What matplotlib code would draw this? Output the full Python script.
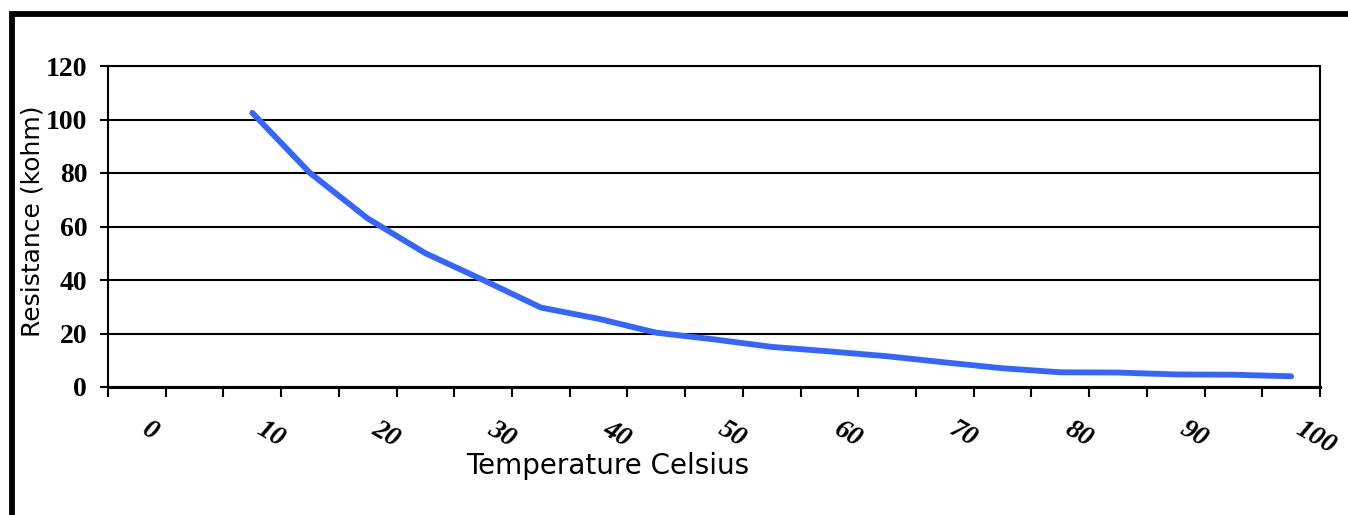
import matplotlib
matplotlib.use("Agg")
import matplotlib.pyplot as plt
import matplotlib.transforms as mtransforms
from matplotlib.patches import Rectangle
import numpy as np

# Temperature categories (deg C) and measured thermistor resistance (kohm)
temperatures = [0, 5, 10, 15, 20, 25, 30, 35, 40, 45, 50,
                55, 60, 65, 70, 75, 80, 85, 90, 95, 100]
resistance = [np.nan, np.nan, 102.5, 80.0, 63.0, 50.0, 40.0, 29.7, 25.5, 20.3, 17.8,
              15.0, 13.3, 11.5, 9.2, 7.0, 5.5, 5.4, 4.7, 4.6, 4.0]
x_tick_labels = ["0", "10", "20", "30", "40", "50", "60", "70", "80", "90", "100"]
y_ticks = [0, 20, 40, 60, 80, 100, 120]

W, H, DPI = 1348, 515, 100
fig = plt.figure(figsize=(W / DPI, H / DPI), dpi=DPI)
fig.patch.set_facecolor("white")

# thick outer frame, clipped by the right and bottom edges of the canvas
frame = Rectangle((12.2 / W, -0.1), 1.2, (1 - 14.2 / H) + 0.1,
                  transform=fig.transFigure, fill=False,
                  edgecolor="black", linewidth=4.2, zorder=0)
fig.patches.append(frame)

left, right, top, bottom = 108, 1320, 66, 387
ax = fig.add_axes([left / W, 1 - bottom / H, (right - left) / W, (bottom - top) / H])

cats = np.arange(len(temperatures))
ax.plot(cats, resistance, color="#3366FF", linewidth=4.2,
        solid_capstyle="round", solid_joinstyle="round", zorder=3)

ax.set_xlim(-0.5, len(temperatures) - 0.5)
ax.set_ylim(0, 120)

# horizontal gridlines
ax.set_yticks(y_ticks)
ax.yaxis.grid(True, color="black", linewidth=1.5)
ax.set_axisbelow(True)

# y tick labels
ax.tick_params(axis="y", direction="out", length=6, width=1.5, pad=9,
               labelsize=20, colors="black")
for lab in ax.get_yticklabels():
    lab.set_fontfamily("Liberation Serif")
    lab.set_fontweight("bold")

# x: tick marks between categories, labels on every second category
ax.set_xticks(np.arange(-0.5, len(temperatures), 1.0), minor=True)
ax.set_xticks(cats[::2])
ax.set_xticklabels(x_tick_labels, rotation=-30, ha="left", va="center",
                   rotation_mode="anchor", fontsize=20,
                   fontfamily="Liberation Serif", fontweight="bold", fontstyle="italic")
ax.tick_params(axis="x", which="minor", direction="out", length=7, width=1.5)
ax.tick_params(axis="x", which="major", length=0, pad=29)
shift = mtransforms.ScaledTranslation(6 / DPI, 0, fig.dpi_scale_trans)
for lab in ax.get_xticklabels():
    lab.set_transform(lab.get_transform() + shift)

for side in ["left", "right", "top"]:
    ax.spines[side].set_linewidth(1.5)
ax.spines["bottom"].set_linewidth(2.2)

ax.set_ylabel("Resistance (kohm)", fontsize=18, fontfamily="DejaVu Sans")
ax.yaxis.label.set_va("center")
ax.yaxis.set_label_coords((33 - left) / (right - left), (bottom - 221) / (bottom - top))

ax.set_xlabel("Temperature Celsius", fontsize=20, fontfamily="DejaVu Sans")
ax.xaxis.label.set_va("center")
ax.xaxis.set_label_coords((608 - left) / (right - left), (bottom - 466) / (bottom - top))

fig.savefig("out.png", dpi=DPI, facecolor="white")
